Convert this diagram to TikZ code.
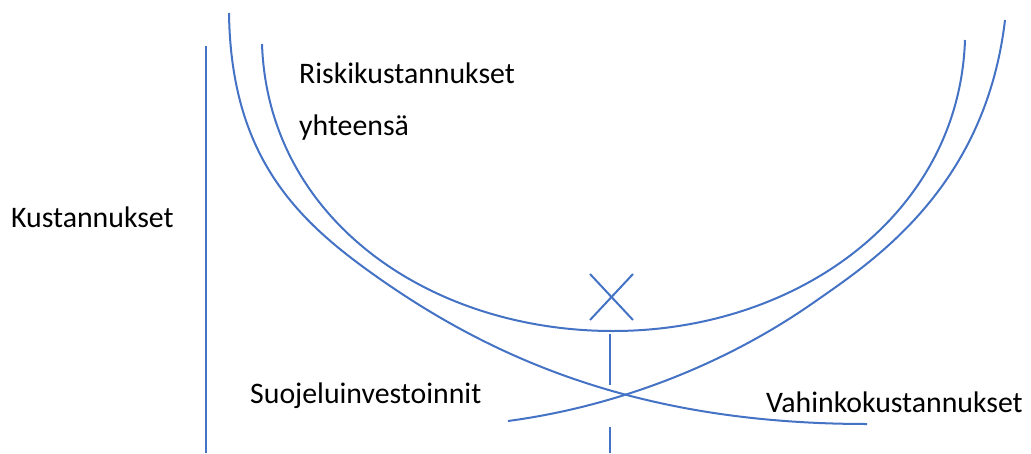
\documentclass[tikz,border=0pt]{standalone}
\usepackage{fontspec}
\setmainfont{Carlito}
\definecolor{lineblue}{RGB}{68,114,196}
\begin{document}
\begin{tikzpicture}[x=1pt,y=-1pt,
  curve/.style={draw=lineblue,line width=2pt},
  lbl/.style={anchor=base west,inner sep=0pt,font=\fontsize{29.8}{36}\selectfont}]
\useasboundingbox (0,0) rectangle (1031,453);
% axis
\coordinate (axtop) at (206,46);
\coordinate (axbot) at (206,453);
\draw[curve] (axtop) -- (axbot);
% total cost U curve
\coordinate (ua) at (262,44);
\coordinate (umin) at (613,331);
\coordinate (ub) at (965,40);
\draw[curve] (ua) .. controls (268,220) and (430,331) .. (umin)
                  .. controls (796,331) and (959,216) .. (ub);
% damage costs (decreasing)
\coordinate (va) at (229,13);
\coordinate (vm) at (380,279);
\coordinate (vb) at (867,424);
\draw[curve] (va) .. controls (231,160) and (300,223) .. (vm)
                  .. controls (500,363) and (647,424) .. (vb);
% protection investments (increasing)
\coordinate (sa) at (508,421);
\coordinate (sm) at (813,303);
\coordinate (sb) at (1005,20);
\draw[curve] (sa) .. controls (620,406) and (727,363) .. (sm)
                  .. controls (870,263) and (985,190) .. (sb);
% X mark
\coordinate (xa) at (590,274); \coordinate (xb) at (633,320);
\coordinate (xc) at (633,274); \coordinate (xd) at (590,320);
\draw[curve] (xa) -- (xb);
\draw[curve] (xc) -- (xd);
% vertical marker segments
\coordinate (v1) at (610,334); \coordinate (v2) at (610,385);
\coordinate (v3) at (610,427); \coordinate (v4) at (610,453);
\draw[curve] (v1) -- (v2);
\draw[curve] (v3) -- (v4);
% labels
\node[lbl] (risk) at (299,83) {Riskikustannukset};
\node[lbl] (yht) at (299,135) {yhteensä};
\node[lbl] (kust) at (11,227) {Kustannukset};
\node[lbl] (suoj) at (250,403) {Suojeluinvestoinnit};
\node[lbl] (vah) at (766,412) {Vahinkokustannukset};
\end{tikzpicture}
\end{document}
